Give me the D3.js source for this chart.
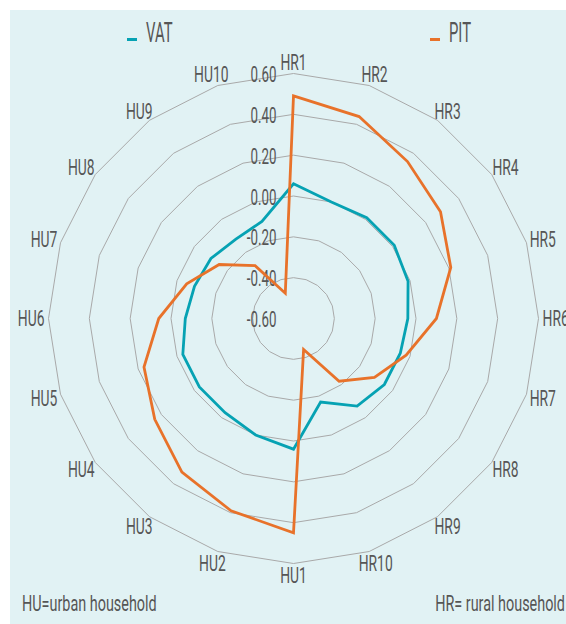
<!DOCTYPE html>
<html>
<head>
<meta charset="utf-8">
<script src="https://cdn.jsdelivr.net/npm/d3@7"></script>
<style>
  body { margin: 0; background: #fff; }
  svg { display: block; }
  text { font-family: Roboto, "Liberation Sans", sans-serif; fill: #565656; }
</style>
</head>
<body>
<svg id="chart"></svg>
<script>
const categories = ["HR1", "HR2", "HR3", "HR4", "HR5", "HR6", "HR7", "HR8", "HR9", "HR10",
                    "HU1", "HU2", "HU3", "HU4", "HU5", "HU6", "HU7", "HU8", "HU9", "HU10"];
const vat = [0.06, 0.00, 0.01, 0.01, -0.01, -0.04, -0.05, -0.05, -0.07, -0.17,
             0.04, 0.00, -0.03, -0.03, -0.03, -0.07, -0.09, -0.10, -0.12, -0.10];
const pit = [0.49, 0.44, 0.35, 0.29, 0.21, 0.10, -0.02, -0.11, -0.22, -0.44,
             0.45, 0.39, 0.33, 0.24, 0.17, 0.06, -0.05, -0.15, -0.28, -0.47];
const tickValues = [-0.6, -0.4, -0.2, 0, 0.2, 0.4, 0.6];
const seriesNames = ["VAT", "PIT"];
const notes = ["HU=urban household", "HR= rural household"];

let width = 566, height = 624;
let cx = 293.5, cy = 318.5, outer = 245;
const colors = {VAT: "#06a2b3", PIT: "#e8722a"};

const fmt = d3.formatLocale({decimal: ".", thousands: ",", grouping: [3], currency: ["", ""], minus: "-"}).format(".2f");

const r = d3.scaleLinear()
    .domain([-0.6, 0.6])
    .range([0, outer]);

const angle = d3.scaleBand()
    .domain(categories)
    .range([0, 2 * Math.PI])
    .padding(0);

const svg = d3.select("#chart")
    .attr("width", width)
    .attr("height", height);

svg.append("rect")
    .attr("x", 10)
    .attr("y", 10)
    .attr("width", width)
    .attr("height", height)
    .attr("fill", "#e1f2f4");

// narrow font look: squeeze glyphs horizontally
function condText(parent, x, y, txt, size, sx, anchor) {
    const g = parent.append("g").attr("transform", "translate(" + x + "," + y + ")");
    const t = g.append("text")
        .attr("transform", "scale(" + sx + ",1)")
        .attr("font-size", size + "px")
        .attr("text-anchor", anchor || "start")
        .text(txt);
    return {g, t, w: t.node().getComputedTextLength() * sx};
}

const plot = svg.append("g")
    .attr("transform", "translate(" + cx + "," + cy + ")");

const ring = d3.lineRadial()
    .angle(c => angle(c))
    .curve(d3.curveLinearClosed);

plot.selectAll(".ring")
    .data(tickValues.filter(v => r(v) > 0))
    .enter()
    .append("path")
    .attr("class", "ring")
    .attr("d", v => ring.radius(r(v))(categories))
    .attr("fill", "none")
    .attr("stroke", "#a9a9a9")
    .attr("stroke-width", 1);

// axis labels
const labelR = 249, axSize = 22, axSx = 0.63;
categories.forEach(c => {
    const a = angle(c);
    const s = Math.sin(a), co = Math.cos(a);
    const px = labelR * s, py = -labelR * co;
    const tmp = condText(plot, 0, 0, c, axSize, axSx, "middle");
    const capH = axSize * 0.711;
    const mx = px + s * tmp.w / 2;
    const my = py - co * capH / 2;
    tmp.g.attr("transform", "translate(" + mx + "," + (my + capH / 2) + ")");
});

// radial tick labels
tickValues.forEach(v => {
    const capH = 21.5 * 0.711;
    condText(plot, -17, -r(v) + capH / 2 + 1, fmt(v), 21.5, 0.62, "end");
});

const line = d3.lineRadial()
    .angle((d, i) => angle(categories[i]))
    .radius(d => r(d))
    .curve(d3.curveLinearClosed);

[["VAT", vat], ["PIT", pit]].forEach(([name, vals]) => {
    plot.append("path")
        .datum(vals)
        .attr("d", line)
        .attr("fill", "none")
        .attr("stroke", colors[name])
        .attr("stroke-width", 2.8)
        .attr("stroke-linejoin", "miter");
});

// legend
const legX = [127, 430];
seriesNames.forEach((name, i) => {
    svg.append("rect")
        .attr("x", legX[i])
        .attr("y", 38)
        .attr("width", 10)
        .attr("height", 3)
        .attr("fill", colors[name]);
    condText(svg, legX[i] + 19, 42, name, 27, 0.55, "start");
});

condText(svg, 22, 611, notes[0], 22, 0.655, "start");
condText(svg, 565, 611, notes[1], 22, 0.655, "end");
</script>
</body>
</html>
